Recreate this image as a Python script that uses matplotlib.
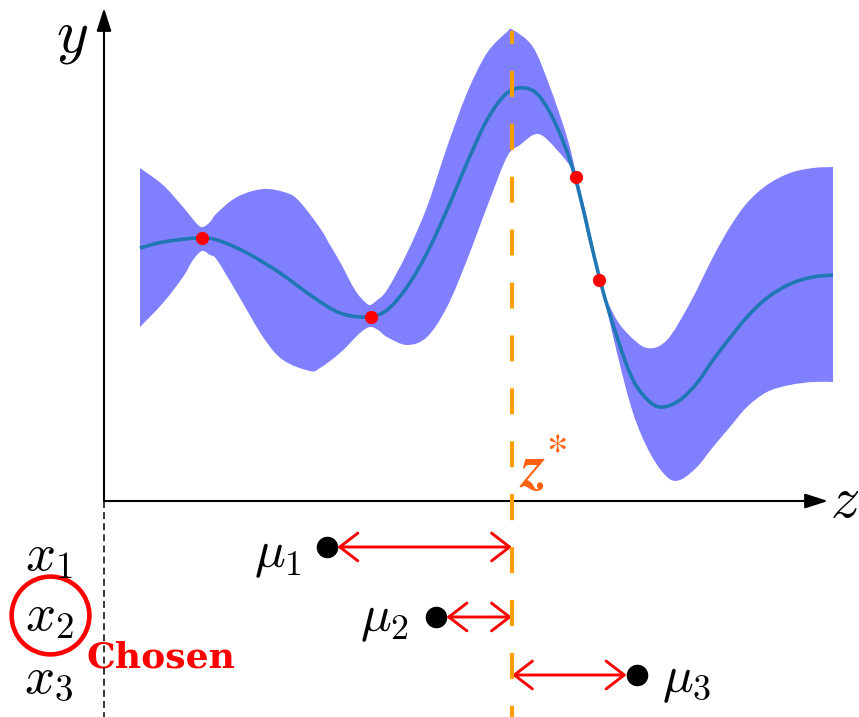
import numpy as np
import matplotlib
matplotlib.use("Agg")
import matplotlib.pyplot as plt
from matplotlib.patches import FancyArrowPatch, PathPatch
from matplotlib.path import Path

plt.rcParams['mathtext.fontset'] = 'cm'
plt.rcParams['lines.scale_dashes'] = False

# Posterior band (upper / lower edges) and posterior mean over z
upper_z = [0.497, 0.815, 1.091, 1.285, 1.367, 1.464, 1.561, 1.837, 2.196, 2.528,
           2.707, 2.983, 3.122, 3.260, 3.467, 3.605, 3.674, 3.757, 3.909, 4.185,
           4.461, 4.738, 5.014, 5.290, 5.566, 5.649, 5.925, 6.160, 6.395, 6.533,
           6.685, 6.851, 7.030, 7.224, 7.500, 7.776, 8.094, 8.412, 8.646, 8.881,
           9.157, 9.475, 9.793, 10.069]
upper_y = [3.33, 3.16, 2.94, 2.77, 2.74, 2.79, 2.88, 3.04, 3.12, 3.08,
           2.99, 2.73, 2.56, 2.39, 2.11, 1.99, 1.96, 2.00, 2.11, 2.48,
           2.94, 3.54, 4.08, 4.48, 4.69, 4.71, 4.54, 4.14, 3.64, 3.24,
           2.79, 2.21, 1.88, 1.68, 1.53, 1.61, 1.98, 2.44, 2.74, 2.98,
           3.16, 3.28, 3.33, 3.34]

lower_z = [0.497, 0.815, 1.091, 1.229, 1.354, 1.464, 1.561, 1.837, 2.196, 2.472,
           2.845, 2.983, 3.260, 3.536, 3.674, 3.785, 3.909, 4.185, 4.461, 4.738,
           5.014, 5.290, 5.566, 5.746, 5.994, 6.257, 6.506, 6.685, 6.851, 7.086,
           7.307, 7.541, 7.776, 7.956, 8.191, 8.412, 8.646, 8.881, 9.157, 9.475,
           9.793, 10.069]
lower_y = [1.74, 1.98, 2.24, 2.41, 2.50, 2.46, 2.41, 2.08, 1.64, 1.41,
           1.30, 1.33, 1.48, 1.68, 1.74, 1.71, 1.64, 1.56, 1.64, 1.94,
           2.41, 2.94, 3.44, 3.56, 3.67, 3.51, 3.24, 2.63, 2.21, 1.48,
           0.88, 0.48, 0.24, 0.21, 0.34, 0.54, 0.74, 0.94, 1.09, 1.16,
           1.19, 1.19]

mean_z = [0.497, 0.815, 1.285, 1.561, 1.975, 2.431, 2.887, 3.260, 3.633, 3.909,
          4.185, 4.461, 4.738, 5.014, 5.290, 5.566, 5.815, 6.022, 6.257, 6.506,
          6.851, 7.086, 7.307, 7.541, 7.721, 7.956, 8.191, 8.412, 8.646, 8.881,
          9.157, 9.475, 9.793, 10.069]
mean_y = [2.53, 2.59, 2.63, 2.61, 2.48, 2.28, 2.04, 1.88, 1.84, 1.91,
          2.14, 2.48, 2.91, 3.38, 3.81, 4.08, 4.13, 4.04, 3.74, 3.24,
          2.21, 1.64, 1.21, 0.99, 0.94, 1.01, 1.18, 1.41, 1.63, 1.84,
          2.03, 2.17, 2.24, 2.26]

# Observed samples
obs_z = [1.354, 3.688, 6.519, 6.837]
obs_y = [2.63, 1.84, 3.24, 2.21]

# Best value so far and candidate means
z_star = 5.635
mu_z = [3.080, 4.586, 7.362]
cand_labels = [r'$x_1$', r'$x_2$', r'$x_3$']
mu_labels = [r'$\mu_1$', r'$\mu_2$', r'$\mu_3$']
chosen = 1

# layout
row_y = [-0.46, -1.16, -1.74]
cand_label_y = [-0.54, -1.14, -1.76]
mu_label_xy = [(2.40, -0.54), (3.88, -1.18), (8.05, -1.79)]
cand_label_x = -0.76


def bezier_through(xs, ys):
    """Cubic Bezier vertices/codes passing through every given point."""
    p = np.column_stack([xs, ys]).astype(float)
    n = len(p)
    verts, codes = [p[0]], [Path.MOVETO]
    for i in range(n - 1):
        p0 = p[max(i - 1, 0)]
        p1, p2 = p[i], p[i + 1]
        p3 = p[min(i + 2, n - 1)]
        verts += [p1 + (p2 - p0) / 6.0, p2 - (p3 - p1) / 6.0, p2]
        codes += [Path.CURVE4] * 3
    return verts, codes


fig = plt.figure(figsize=(8.59, 7.17), dpi=100)
ax = fig.add_axes([0, 0, 1, 1])
ax.set_xlim(-104 / 72.4, (859 - 104) / 72.4)
ax.set_ylim(-2.16, 5.01)
ax.axis('off')

# uncertainty band
uv, uc = bezier_through(upper_z, upper_y)
lv, lc = bezier_through(lower_z[::-1], lower_y[::-1])
band_verts = uv + lv + [uv[0]]
band_codes = uc + [Path.LINETO] + lc[1:] + [Path.CLOSEPOLY]
ax.add_patch(PathPatch(Path(band_verts, band_codes), facecolor='#8080ff',
                       edgecolor='none', zorder=1))

# posterior mean
mv, mc = bezier_through(mean_z, mean_y)
ax.add_patch(PathPatch(Path(mv, mc), facecolor='none', edgecolor='#1f77b4',
                       lw=2.6, capstyle='butt', zorder=2))
ax.plot(obs_z, obs_y, 'o', color='red', ms=9.5, mec='none', zorder=3)

# axes with arrow heads
for end in [(10.0, 0.0), (0.0, 4.93)]:
    ax.add_patch(FancyArrowPatch((0, 0), end,
                                 arrowstyle='-|>,head_length=14,head_width=4.5',
                                 mutation_scale=1, lw=1.5, color='black',
                                 shrinkA=0, shrinkB=0, zorder=4))
ax.plot([0, 0], [0, -2.16], color='black', lw=1.1, ls=(0, (5, 3)), zorder=4)
ax.text(-0.442, 4.64, r'$y$', fontsize=44, ha='center', va='center')
ax.text(10.225, 0.01, r'$z$', fontsize=42, ha='center', va='center')

# incumbent line
ax.plot([z_star, z_star], [4.70, -2.16], color='#ffa000', lw=3,
        ls=(9.4, (18.7, 19.4)), zorder=6)
ax.text(6.064, 0.31, r'$\boldsymbol{z}^{*}$', color='#ff6010', fontsize=44,
        math_fontfamily='stix', ha='center', va='center')

# candidates
ax.plot(mu_z, row_y, 'o', color='black', ms=14.5, zorder=5)
for i in range(3):
    ax.add_patch(FancyArrowPatch((mu_z[i], row_y[i]), (z_star, row_y[i]),
                                 arrowstyle='<->,head_length=13,head_width=10',
                                 mutation_scale=1, lw=2.1, color='red',
                                 shrinkA=7.5, shrinkB=0, zorder=5))
    ax.text(cand_label_x, cand_label_y[i], cand_labels[i], fontsize=38,
            ha='center', va='center')
    ax.text(*mu_label_xy[i], mu_labels[i], fontsize=37, ha='center', va='center')

ax.plot(-0.746, cand_label_y[chosen], 'o', ms=56, mfc='none', mec='red', mew=3.3)
ax.text(0.787, -1.56, 'Chosen', color='red', fontsize=26, fontweight='bold',
        family='DejaVu Serif', ha='center', va='center')

fig.savefig('out.png', dpi=100)
